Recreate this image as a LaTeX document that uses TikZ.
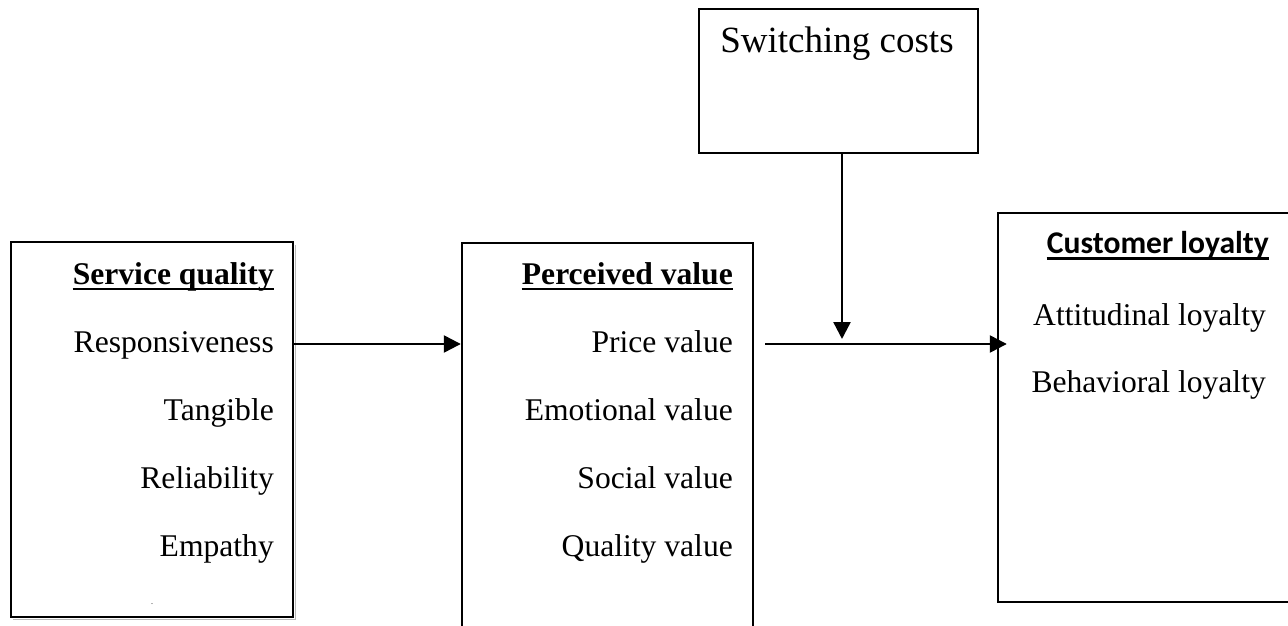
\documentclass[tikz,border=0pt]{standalone}
\usepackage{fontspec}
\setmainfont{Liberation Serif}
\newfontfamily\calibrifont{Carlito}
\usetikzlibrary{arrows.meta}

\tikzset{
  panel/.style={draw, line width=2.4pt, rectangle, inner sep=0pt},
  item/.style={anchor=base east, inner sep=0pt, font=\fontsize{31.6}{38}\selectfont},
  heading/.style={item, font=\fontsize{31.6}{38}\selectfont\bfseries},
  flow/.style={line width=2.4pt, -{Triangle[length=17pt,width=17pt]}},
  uline/.style={line width=2.8pt}
}

\begin{document}
\begin{tikzpicture}[x=1pt,y=-1pt]
\clip (0,0) rectangle (1288,626);
\fill[white] (0,0) rectangle (1288,626);

% --- boxes ---
\draw[gray!55, line width=1.5pt] (295.5,245) -- (295.5,619.5) -- (13,619.5);
\node[panel, minimum width=282pt, minimum height=375pt] (sq) at (152,429.5) {};
\node[panel, minimum width=291pt, minimum height=430pt] (pv) at (607.5,458) {};
\node[panel, minimum width=279pt, minimum height=144pt] (sc) at (838.5,81) {};
\node[panel, minimum width=320pt, minimum height=389pt] (cl) at (1158,407.5) {};

% --- service quality ---
\node[heading] (sqh) at (274,284) {Service quality};
\draw[uline] ([yshift=-5pt]sqh.base west) -- ([yshift=-5pt]sqh.base east);
\node[item] (sq1) at (274,352) {Responsiveness};
\node[item] (sq2) at (274,420) {Tangible};
\node[item] (sq3) at (274,488) {Reliability};
\node[item] (sq4) at (274,556) {Empathy};
\node[inner sep=0pt, font=\fontsize{8}{8}\selectfont, anchor=base] (sqdot) at (152,604) {.};

% --- perceived value ---
\node[heading] (pvh) at (733,284) {Perceived value};
\draw[uline] ([yshift=-5pt]pvh.base west) -- ([yshift=-5pt]pvh.base east);
\node[item] (pv1) at (733,352) {Price value};
\node[item] (pv2) at (733,420) {Emotional value};
\node[item] (pv3) at (733,488) {Social value};
\node[item] (pv4) at (733,556) {Quality value};

% --- switching costs ---
\node[anchor=base, inner sep=0pt, font=\fontsize{37}{44}\selectfont] (sct) at (837,53) {Switching costs};

% --- customer loyalty ---
\node[item, font=\fontsize{31.6}{38}\selectfont\calibrifont\bfseries] (clh) at (1269,253) {Customer loyalty};
\draw[uline] ([yshift=-5.5pt]clh.base west) -- ([yshift=-5.5pt]clh.base east);
\node[item] (cl1) at (1266,325) {Attitudinal loyalty};
\node[item] (cl2) at (1266,392) {Behavioral loyalty};

% --- connectors ---
\coordinate (row) at (0,344);
\coordinate (mstart) at (765,344);
\coordinate (mod) at (842,339);
\draw[flow] (sq.east |- row) -- (pv.west |- row);
\draw[flow, shorten >=-10pt] (mstart) -- (cl.west |- row);
\draw[flow] (sc.south -| mod) -- (mod);
\end{tikzpicture}
\end{document}
